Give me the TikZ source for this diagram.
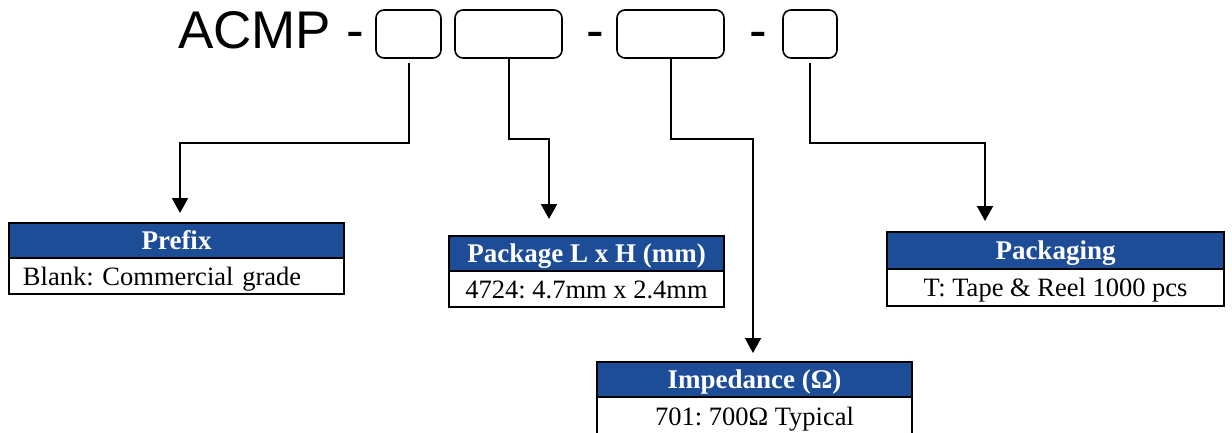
\documentclass[tikz,border=0pt]{standalone}
\usepackage{fontspec}
\setmainfont{Liberation Serif}
\newfontfamily\partfont{Liberation Sans}
\usetikzlibrary{arrows.meta,positioning}
\definecolor{headblue}{RGB}{30,77,152}

\begin{document}
\frenchspacing
\begin{tikzpicture}[x=1pt,y=-1pt,
  slot/.style={draw, line width=1.6pt, rounded corners=8pt, minimum height=48pt, inner sep=0pt},
  head/.style={draw, line width=2pt, fill=headblue, text=white, font=\fontsize{27}{30}\selectfont\bfseries,
    minimum height=35pt, inner sep=0pt, outer sep=0pt, text height=18pt, text depth=0pt},
  body/.style={draw, line width=2pt, fill=white, font=\fontsize{26.5}{30}\selectfont,
    minimum height=36pt, inner sep=0pt, outer sep=0pt, text height=18pt, text depth=0pt},
  link/.style={line width=2pt, -{Triangle[width=16pt,length=15pt]}}]
\useasboundingbox (0,0) rectangle (1232,433);
% part number
\node[anchor=base west, inner sep=0pt, font=\partfont\fontsize{53}{60}\selectfont] (acmp) at (178,49) {ACMP -};
\node[anchor=base, inner sep=0pt, font=\partfont\fontsize{53}{60}\selectfont] (dash1) at (595.5,49) {-};
\node[anchor=base, inner sep=0pt, font=\partfont\fontsize{53}{60}\selectfont] (dash2) at (758,49) {-};
\node[slot, minimum width=65pt] (b1) at (408.5,34) {};
\node[slot, minimum width=107pt] (b2) at (508.5,34) {};
\node[slot, minimum width=107pt] (b3) at (670.5,34) {};
\node[slot, minimum width=54pt] (b4) at (810,34) {};
% tables
\node[head, anchor=north west, minimum width=335pt] (prefixhead) at (9,223) {Prefix};
\node[body, below=0pt of prefixhead, text width=307pt, align=left, inner xsep=14pt] (prefixbody) {Blank: Commercial grade};
\node[head, anchor=north west, minimum width=275pt] (packhead) at (449,236) {Package L x H (mm)};
\node[body, below=0pt of packhead, minimum width=275pt] (packbody) {4724: 4.7mm x 2.4mm};
\node[head, anchor=north west, minimum width=315pt] (imphead) at (597,362) {Impedance (Ω)};
\node[body, below=0pt of imphead, minimum width=315pt, minimum height=38pt] (impbody) {701: 700Ω Typical};
\node[head, anchor=north west, minimum width=337pt, minimum height=37pt] (tapehead) at (887,232) {Packaging};
\node[body, below=0pt of tapehead, minimum width=337pt, minimum height=37pt] (tapebody) {T: Tape \& Reel 1000 pcs};
% arrow ends
\coordinate (t1) at (180,213);
\coordinate (t2) at (549,219);
\coordinate (t3) at (753,353);
\coordinate (t4) at (985,221);
\draw[link] ([yshift=-4pt]b1.south) -- ++(0,80) -| (t1);
\draw[link] (b2.south) -- ++(0,80) -| (t2);
\draw[link] (b3.south) -- ++(0,80) -| (t3);
\draw[link] ([yshift=-4pt]b4.south) -- ++(0,80) -| (t4);
\end{tikzpicture}
\end{document}
